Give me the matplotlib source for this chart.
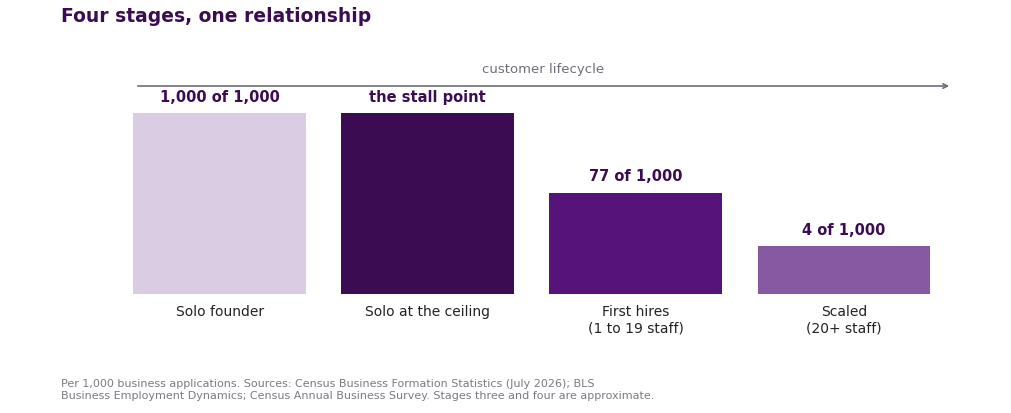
import matplotlib.pyplot as plt

stages = ['Solo founder', 'Solo at the ceiling', 'First hires\n(1 to 19 staff)', 'Scaled\n(20+ staff)']
heights = [100, 100, 56, 26.5]  # drawn height
top_labels = ['1,000 of 1,000', 'the stall point', '77 of 1,000', '4 of 1,000']
colors = ['#d9cce3', '#3b0c52', '#561379', '#8759a3']

W, H = 1011, 413
fig = plt.figure(figsize=(W / 100, H / 100), dpi=100)
ax = fig.add_axes([115.5 / W, 1 - 294 / H, 832.5 / W, 181 / H])

ax.bar(range(4), heights, width=0.83, color=colors)
ax.set_xlim(-0.5, 3.5)
ax.set_ylim(0, 100)
for i, (h, t) in enumerate(zip(heights, top_labels)):
    ax.annotate(t, (i, h), xytext=(0, 6), textcoords='offset points',
                ha='center', va='bottom', fontsize=10.5, fontweight='bold', color='#3b0c52')

ax.set_xticks(range(4))
ax.set_xticklabels(stages, fontsize=10, color='#222222', linespacing=1.25)
ax.tick_params(axis='x', length=0, pad=8)
ax.set_yticks([])
for s in ax.spines.values():
    s.set_visible(False)

fig.text(61 / W, 1 - 17 / H, 'Four stages, one relationship', fontsize=13.5,
         fontweight='bold', color='#3b0c52', va='center')
fig.text(543 / W, 1 - 70 / H, 'customer lifecycle', fontsize=9.5, color='#6e6e78',
         ha='center', va='center')
fig.add_artist(plt.matplotlib.patches.FancyArrowPatch(
    (135 / W, 1 - 86 / H), (952 / W, 1 - 86 / H), transform=fig.transFigure,
    arrowstyle='->', mutation_scale=8, color='#6e6e78', lw=1.2))
fig.text(61 / W, 1 - 390 / H,
         'Per 1,000 business applications. Sources: Census Business Formation Statistics (July 2026); BLS\n'
         'Business Employment Dynamics; Census Annual Business Survey. Stages three and four are approximate.',
         fontsize=8, color='#7a7a82', va='center', linespacing=1.2)

fig.savefig('out.png', dpi=100)
